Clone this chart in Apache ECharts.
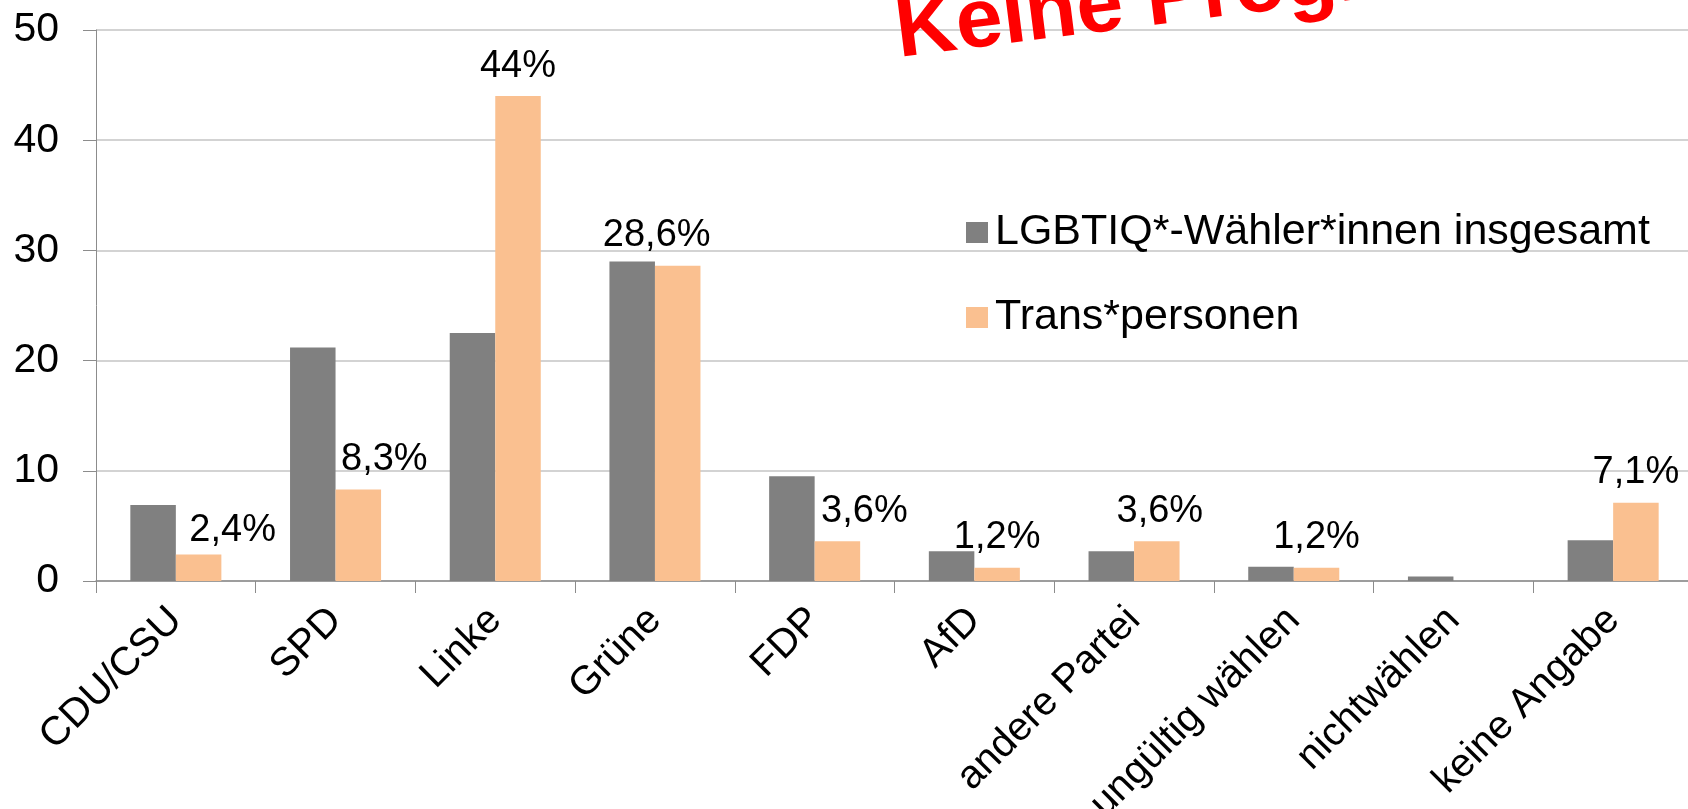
<!DOCTYPE html>
<html>
<head>
<meta charset="utf-8">
<script src="https://cdn.jsdelivr.net/npm/echarts@6/dist/echarts.min.js"></script>
<style>
html,body{margin:0;padding:0;background:#fff;}
#chart{width:1688px;height:809px;}
</style>
</head>
<body>
<div id="chart"></div>
<script>
const categories = ['CDU/CSU','SPD','Linke','Grüne','FDP','AfD','andere Partei','ungültig wählen','nichtwählen','keine Angabe'];
const seriesNames = ['LGBTIQ*-Wähler*innen insgesamt','Trans*personen'];
const lgbtiqValues = [6.9, 21.2, 22.5, 29.0, 9.5, 2.7, 2.7, 1.3, 0.4, 3.7];
const transValues = [2.4, 8.3, 44, 28.6, 3.6, 1.2, 3.6, 1.2, 0, 7.1];
const yTicks = [0, 10, 20, 30, 40, 50];
const overlayText = 'Keine Prognose!';

// label placement tweaks (pixels), kept apart from the data
const labelOffsets = [[34,6],[26,0],[0,0],[-21,0],[27,0],[0,0],[3,0],[0,0],[0,0],[0,0]];

const FONT = '"Liberation Sans", Arial, sans-serif';
const chart = echarts.init(document.getElementById('chart'));

const transData = transValues.map((v, i) => ({
  value: v,
  label: { offset: labelOffsets[i] }
}));

chart.setOption({
  animation: false,
  backgroundColor: '#fff',
  grid: { left: 96, right: -5, top: 30, bottom: 228, containLabel: false, outerBoundsMode: 'none' },
  legend: {
    orient: 'vertical',
    left: 961,
    top: 206,
    itemWidth: 22,
    itemHeight: 21,
    itemGap: 42,
    icon: 'rect',
    data: seriesNames,
    textStyle: { fontFamily: FONT, fontSize: 43, color: '#000', padding: [0,0,0,2] }
  },
  xAxis: {
    type: 'category',
    data: categories,
    axisLine: { lineStyle: { color: '#8c8c8c', width: 1.5 } },
    axisTick: { show: true, length: 12, lineStyle: { color: '#8c8c8c', width: 1 } },
    axisLabel: {
      rotate: 45,
      interval: 0,
      margin: 33,
      padding: [38,0,0,0],
      fontFamily: FONT,
      fontSize: 40,
      color: '#000'
    }
  },
  yAxis: {
    type: 'value',
    min: yTicks[0],
    max: yTicks[yTicks.length - 1],
    interval: 10,
    axisLine: { show: true, lineStyle: { color: '#8c8c8c', width: 1 } },
    axisTick: { show: true, length: 13, lineStyle: { color: '#8c8c8c', width: 1 } },
    splitLine: { lineStyle: { color: '#c4c4c4', width: 1.5 } },
    axisLabel: { margin: 37, fontFamily: FONT, fontSize: 41, color: '#000' }
  },
  series: [
    {
      name: seriesNames[0],
      type: 'bar',
      data: lgbtiqValues,
      barGap: '0%',
      barCategoryGap: '43%',
      itemStyle: { color: '#808080' }
    },
    {
      name: seriesNames[1],
      type: 'bar',
      data: transData,
      barGap: '0%',
      barCategoryGap: '43%',
      itemStyle: { color: '#FAC090' },
      label: {
        show: true,
        position: 'top',
        distance: 11,
        fontFamily: FONT,
        fontSize: 38,
        color: '#000',
        formatter: p => p.value === 0 ? '' : String(p.value).replace('.', ',') + '%'
      }
    }
  ],
  graphic: [
    {
      type: 'text',
      x: 896,
      y: 34,
      rotation: 7.2 * Math.PI / 180,
      z: 100,
      style: {
        text: overlayText,
        x: 0,
        y: 0,
        fill: '#FF0000',
        font: 'bold 84px ' + FONT,
        align: 'left',
        verticalAlign: 'middle'
      }
    }
  ]
});
</script>
</body>
</html>
